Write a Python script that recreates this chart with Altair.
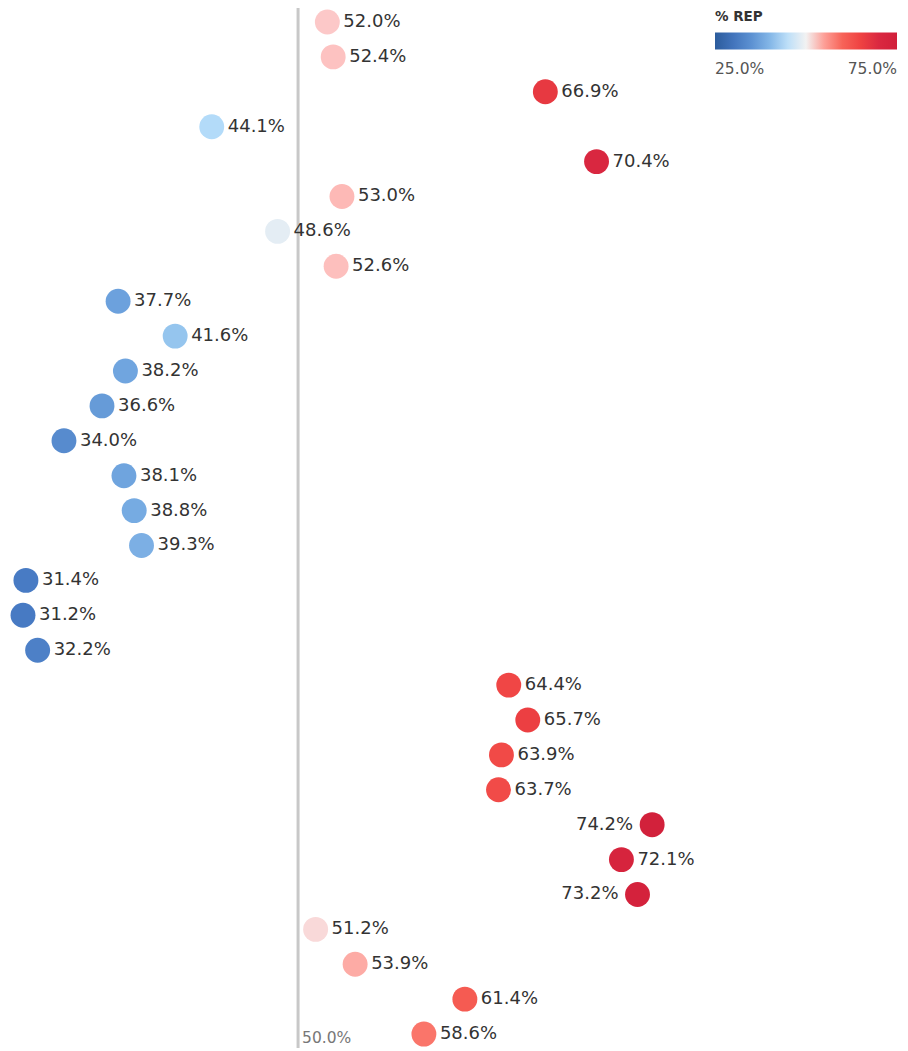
import altair as alt
import pandas as pd

rep_pct = [52.0, 52.4, 66.9, 44.1, 70.4, 53.0, 48.6, 52.6, 37.7, 41.6,
           38.2, 36.6, 34.0, 38.1, 38.8, 39.3, 31.4, 31.2, 32.2, 64.4,
           65.7, 63.9, 63.7, 74.2, 72.1, 73.2, 51.2, 53.9, 61.4, 58.6]
# labels placed left of the dot for these rows (as in the reference)
left_label = [False] * 23 + [True, False, True] + [False] * 4

color_stops = [25, 31, 38, 44, 50, 52, 54, 60, 65, 70, 75]
color_range = ["#2c5c9c", "#4679c2", "#6ea3de", "#b2dbf9", "#f2f2f2", "#fcc8c8",
               "#fdaaa3", "#f76358", "#ef4242", "#da2840", "#d11f3a"]

df = pd.DataFrame({"row": list(range(len(rep_pct))), "rep": rep_pct, "left": left_label})
df["label"] = [f"{v:.1f}%" for v in rep_pct]

FONT = "DejaVu Sans"
W, H = 892, 1043
x_scale = alt.Scale(domain=[30.175, 91.14], nice=False, zero=False)
y_scale = alt.Scale(domain=[-0.401, 29.485], nice=False, zero=False, reverse=True)

base = alt.Chart(df).encode(
    x=alt.X("rep:Q", scale=x_scale, axis=None),
    y=alt.Y("row:Q", scale=y_scale, axis=None),
)

rule = alt.Chart(pd.DataFrame({"v": [50.0]})).mark_rule(color="#c8c8c8", strokeWidth=3).encode(
    x=alt.X("v:Q", scale=x_scale, axis=None),
    y=alt.value(0),
    y2=alt.value(1040),
)

ref_text = alt.Chart(pd.DataFrame({"v": [50.0], "t": ["50.0%"]})).mark_text(
    align="left", baseline="middle", dx=4, fontSize=15.5, color="#777777", font=FONT
).encode(
    x=alt.X("v:Q", scale=x_scale, axis=None),
    y=alt.value(1030),
    text="t:N",
)

dots = base.mark_circle(size=620, opacity=1).encode(
    color=alt.Color(
        "rep:Q",
        scale=alt.Scale(domain=color_stops, range=color_range),
        legend=alt.Legend(
            title="% REP",
            orient="none",
            legendX=707,
            legendY=2,
            direction="horizontal",
            gradientLength=182,
            gradientThickness=17,
            values=[25, 75],
            labelExpr="format(datum.value, '.1f') + '%'",
            titleFontSize=13.5,
            titleFontWeight=600,
            titleColor="#333333",
            titleFont=FONT,
            titlePadding=9,
            labelFontSize=15.5,
            labelColor="#555555",
            labelFont=FONT,
            labelOffset=12,
            gradientStrokeWidth=0,
        ),
    )
)

labels_right = base.transform_filter("!datum.left").mark_text(
    align="left", baseline="middle", dx=16, fontSize=18, color="#333333", font=FONT
).encode(text="label:N")

labels_left = base.transform_filter("datum.left").mark_text(
    align="right", baseline="middle", dx=-19, fontSize=18, color="#333333", font=FONT
).encode(text="label:N")

chart = alt.layer(
    rule, ref_text, dots, labels_right, labels_left
).properties(
    width=W, height=H, padding=0, autosize=alt.AutoSizeParams(type="none")
).configure_view(strokeWidth=0)

chart.save("out.html", embed_options={"renderer": "svg", "actions": False})
